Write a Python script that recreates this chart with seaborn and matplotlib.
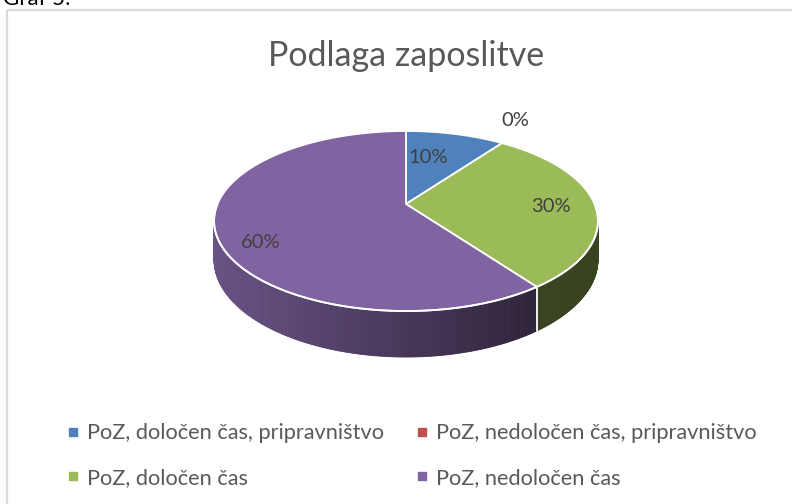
"""
3D pie: Podlaga zaposlitve (Excel-style, perspective tilt)
"""
import numpy as np
import matplotlib.pyplot as plt
import matplotlib.colors as mcolors
from matplotlib.patches import Polygon, Rectangle
from matplotlib.lines import Line2D
import seaborn as sns

# ── Data ───────────────────────────────────────────────────────────────────────
CATEGORIES = [
    "PoZ, določen čas, pripravništvo",
    "PoZ, nedoločen čas, pripravništvo",
    "PoZ, določen čas",
    "PoZ, nedoločen čas",
]
SHARES = [10, 0, 30, 60]
LABELS = ["10%", "0%", "30%", "60%"]
TITLE = "Podlaga zaposlitve"
CAPTION = "Graf 5:"

# ── Style ──────────────────────────────────────────────────────────────────────
sns.set_theme(style="white")
plt.rcParams["font.family"] = ["Lato", "DejaVu Sans"]
PALETTE = sns.color_palette(["#4F81BD", "#C0504D", "#9BBB59", "#8064A2"])
TEXT = "#595959"
LABEL_TXT = "#404040"

# ── Projection (pixel space, perspective tilt) ─────────────────────────────────
CX, CY = 406, 204       # where the pie centre lands
A, B = 188.5, 86.8      # horizontal / vertical radii
K = 0.189               # perspective strength
DEPTH = 37.3            # wall thickness


def project(theta, r=1.0, z=0.0):
    """theta in degrees clockwise from 12 o'clock."""
    t = np.radians(theta)
    u, v = r * np.sin(t), r * np.cos(t)
    w = 1 + K * v
    return CX + A * u / w, CY - B * v / w + z * DEPTH / w


def wall_shade(x):
    s = 0.82 - 0.46 * (x - 214) / (535 - 214)
    return float(np.clip(s, 0.36, 0.82))


fig = plt.figure(figsize=(7.92, 5.04), dpi=100)
ax = fig.add_axes([0, 0, 1, 1])
ax.set_xlim(0, 792)
ax.set_ylim(504, 0)
ax.axis("off")

# frame + caption (caption is cut by the page edge, as in the source)
ax.add_patch(Rectangle((7, 10), 800, 500, fill=False, ec="#D9D9D9", lw=1.6))
ax.text(3, 5, CAPTION, fontsize=16, color="black", ha="left", va="baseline",
        clip_on=False)

total = sum(SHARES)
bounds = np.cumsum([0] + SHARES) / total * 360

# ── Side walls (front half only, thin strips for the gradient) ────────────────
for i, share in enumerate(SHARES):
    a0, a1 = bounds[i], bounds[i + 1]
    lo, hi = max(a0, 90), min(a1, 270)
    if share == 0 or lo >= hi:
        continue
    steps = np.linspace(lo, hi, max(int((hi - lo) * 2), 2))
    base = np.array(mcolors.to_rgb(PALETTE[i]))
    for t0, t1 in zip(steps[:-1], steps[1:]):
        p0, p1 = project(t0), project(t1)
        q0, q1 = project(t0, z=1), project(t1, z=1)
        xm = (p0[0] + p1[0]) / 2
        col = base * wall_shade(xm)
        ax.add_patch(Polygon([p0, p1, q1, q0], closed=True, fc=col, ec=col,
                             lw=0.6))

# white seam where slices meet on the wall
for b in bounds[1:-1]:
    if 90 < b < 270:
        p, q = project(b), project(b, z=1)
        ax.plot([p[0], q[0]], [p[1], q[1]], color="white", lw=1.3)

# ── Top face ──────────────────────────────────────────────────────────────────
for i, share in enumerate(SHARES):
    if share == 0:
        continue
    arc = np.linspace(bounds[i], bounds[i + 1], 200)
    pts = [(CX, CY)] + [project(t) for t in arc]
    ax.add_patch(Polygon(pts, closed=True, fc=PALETTE[i], ec="white", lw=1.3,
                         joinstyle="round"))

# rim highlight on the front edge
rim = np.linspace(90, 270, 300)
ax.plot(*zip(*[project(t) for t in rim]), color="white", lw=1.3)

# ── Data labels ───────────────────────────────────────────────────────────────
nudge = {0: (-16, 8), 1: (-3, -12), 2: (4, 2), 3: (-5, 17)}
for i, lab in enumerate(LABELS):
    mid = (bounds[i] + bounds[i + 1]) / 2
    r = 1.2 if SHARES[i] == 0 else 0.75
    x, y = project(mid, r=r)
    dx, dy = nudge[i]
    ax.text(x + dx, y + dy, lab, fontsize=14.5, color=LABEL_TXT,
            ha="center", va="center")

# ── Title ─────────────────────────────────────────────────────────────────────
ax.text(CX, 56, TITLE, fontsize=24.5, color=TEXT, ha="center", va="center")

# ── Legend (row-major like Excel: reorder for matplotlib's column fill) ──────
handles = [Line2D([], [], ls="", marker="s", markersize=5.5, color=c,
                  label=lab) for c, lab in zip(PALETTE, CATEGORIES)]
order = [0, 2, 1, 3]
leg = ax.legend(handles=[handles[j] for j in order], ncol=2, frameon=False,
                fontsize=15.7, loc="center left",
                bbox_to_anchor=(52 / 792, 1 - 455.5 / 504),
                handletextpad=0.2, handlelength=0.9, columnspacing=1.3,
                labelspacing=1.12, borderpad=0)
for t in leg.get_texts():
    t.set_color(TEXT)

fig.savefig("out.png", dpi=100)
